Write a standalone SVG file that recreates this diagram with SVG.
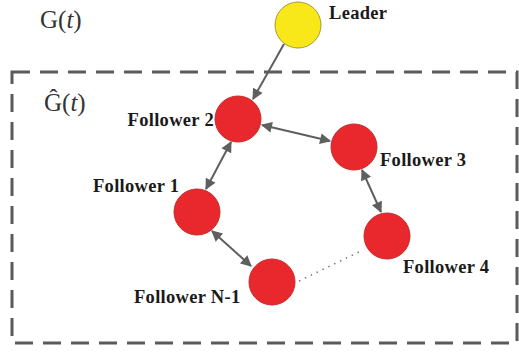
<svg xmlns="http://www.w3.org/2000/svg" width="519" height="353" viewBox="0 0 519 353">
<style>
.f{fill:#e8282c;stroke:#c42a2a;stroke-width:1}
.l{fill:#f8e81a;stroke:#a89a30;stroke-width:1}
.lab{font-family:"Liberation Serif",serif;font-weight:bold;font-size:18.5px;letter-spacing:0.3px;fill:#1a1a1a}
.math{font-family:"Liberation Serif",serif;font-size:25px;fill:#333}
.it{font-style:italic}
.e{stroke:#5f5f5f;stroke-width:2;fill:none}
</style>
<defs>
<marker id="ah" viewBox="0 0 10 10" refX="9" refY="5" markerWidth="6" markerHeight="5.5" orient="auto-start-reverse" markerUnits="strokeWidth">
<path d="M0,0 L10,5 L0,10 Z" fill="#5f5f5f"/>
</marker>
</defs>
<rect x="12" y="72" width="505" height="271" fill="none" stroke="#5a5a5a" stroke-width="3" stroke-dasharray="18,10"/>
<text class="math" x="40" y="28">G(<tspan class="it">t</tspan>)</text>
<text class="math" x="44" y="111">Ĝ(<tspan class="it">t</tspan>)</text>
<g id="connectors">
<line class="e" x1="284" y1="44" x2="253" y2="99" marker-end="url(#ah)"/>
<line class="e" x1="262" y1="125" x2="330" y2="141" marker-start="url(#ah)" marker-end="url(#ah)"/>
<line class="e" x1="231" y1="142" x2="206" y2="189" marker-start="url(#ah)" marker-end="url(#ah)"/>
<line class="e" x1="362" y1="170" x2="381" y2="212" marker-start="url(#ah)" marker-end="url(#ah)"/>
<line class="e" x1="212" y1="231" x2="251" y2="266" marker-start="url(#ah)" marker-end="url(#ah)"/>
<line stroke="#777" stroke-width="1.5" stroke-dasharray="1.5,5" x1="299" y1="281" x2="363" y2="250"/>
</g>
<g id="leader"><circle class="l" cx="298" cy="25" r="23"/><text class="lab" x="329" y="19">Leader</text></g>
<g id="follower2"><circle class="f" cx="238" cy="119" r="23"/><text class="lab" x="214" y="126" text-anchor="end">Follower 2</text></g>
<g id="follower3"><circle class="f" cx="354" cy="147" r="23"/><text class="lab" x="380" y="166">Follower 3</text></g>
<g id="follower1"><circle class="f" cx="197" cy="212" r="23"/><text class="lab" x="93" y="192">Follower 1</text></g>
<g id="followerN1"><circle class="f" cx="272" cy="282" r="23"/><text class="lab" x="134" y="303">Follower N-1</text></g>
<g id="follower4"><circle class="f" cx="387" cy="236" r="23"/><text class="lab" x="403" y="273">Follower 4</text></g>
</svg>
